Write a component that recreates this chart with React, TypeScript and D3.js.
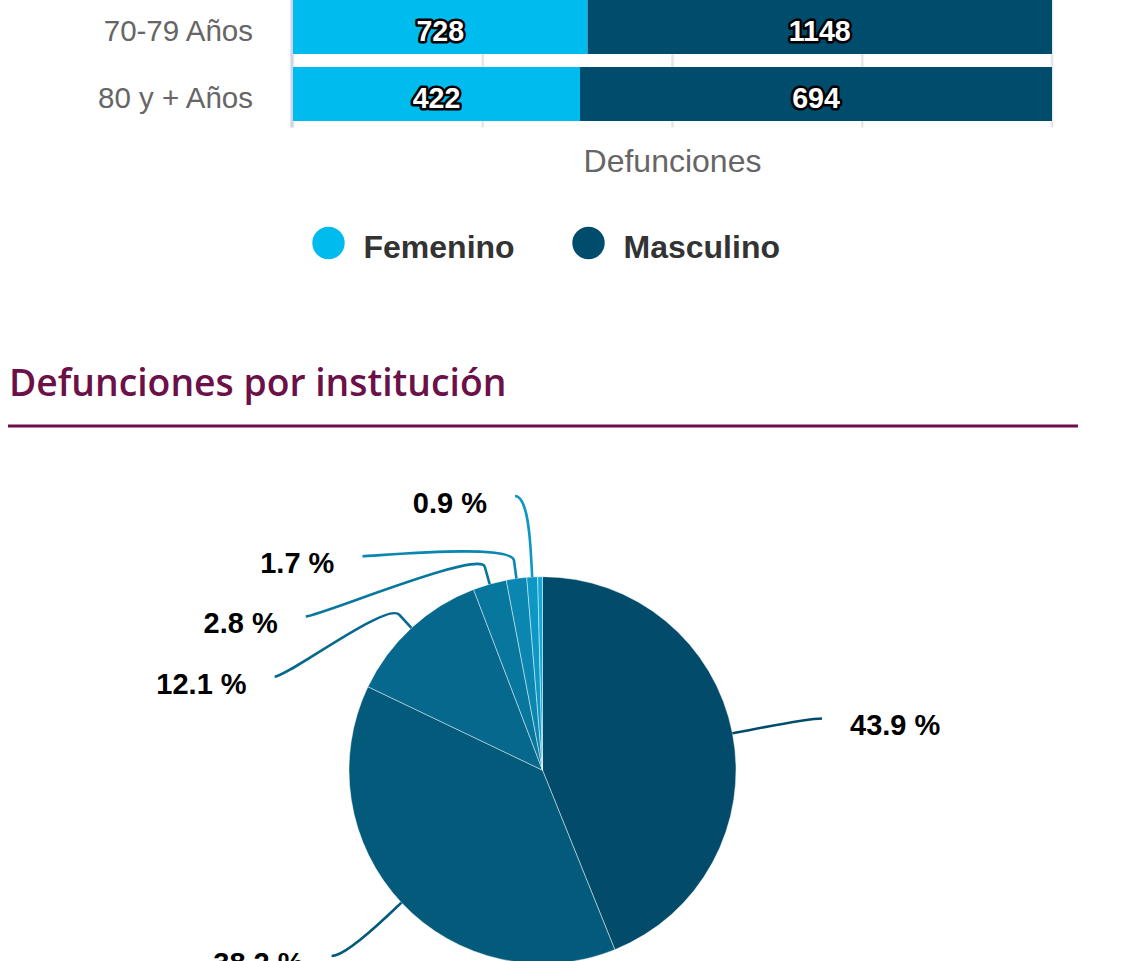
import React from 'react';
import * as d3 from 'd3';

// ---------- Data ----------
const ageGroups = ['70-79 Años', '80 y + Años'];
const femenino = [728, 422];
const masculino = [1148, 694];
const seriesNames = ['Femenino', 'Masculino'];
const seriesColors = ['#00bbed', '#004c6d'];
const xTicks = [0, 25, 50, 75, 100];
const xAxisTitle = 'Defunciones';

const sectionTitle = 'Defunciones por institución';
const institutionShares = [43.9, 38.2, 12.1, 2.8, 1.7, 0.9, 0.4];
const institutionLabelShown = [true, true, true, true, true, true, false];
const pieColors = ['#024b6b', '#035a7b', '#06688c', '#08779e', '#0a86b1', '#0c97c5', '#12a8d8'];

const FONT = '"Liberation Sans", Arial, Helvetica, sans-serif';

type PieLabel = {
  i: number;
  text: string;
  left: boolean;
  naturalY: number;
  y: number;
  x: number;
  bx: number;
  by: number;
  tx: number;
  ty: number;
  color: string;
};

export default function App() {
  const W = 1136;
  const H = 961;

  // ---------- Bar chart (percent stacked) ----------
  const plotLeft = 293;
  const plotRight = 1052;
  const plotTop = -6.5;
  const plotBottom = 127.5;
  const x = d3.scaleLinear().domain([0, 100]).range([plotLeft, plotRight]);
  const y = d3
    .scaleBand<string>()
    .domain(ageGroups)
    .range([plotTop, plotBottom])
    .paddingInner(0.194)
    .paddingOuter(0.097);

  const rows = ageGroups.map((g, i) => ({ group: g, f: femenino[i], m: masculino[i] }));
  const stacked = d3
    .stack<any>()
    .keys(['f', 'm'])
    .offset(d3.stackOffsetExpand)(rows);

  // ---------- Pie ----------
  const cx = 542.5;
  const cy = 770.2;
  const r = 193.5;
  const labelDistance = 78;
  const labelR = r + labelDistance;
  const pad = 13;
  const breakR = r + 18;
  const spacing = 60.2;
  const labelTop = 496;

  const pieGen = d3
    .pie<number>()
    .sort(null)
    .value((d) => d)
    .startAngle(0)
    .endAngle(2 * Math.PI);
  const arcs = pieGen(institutionShares);
  const arcGen = d3.arc<d3.PieArcDatum<number>>().innerRadius(0).outerRadius(r);

  const labels: PieLabel[] = [];
  arcs.forEach((a, i) => {
    if (!institutionLabelShown[i]) return;
    const mid = (a.startAngle + a.endAngle) / 2;
    const s = Math.sin(mid);
    const c = Math.cos(mid);
    labels.push({
      i,
      text: `${d3.format('.1f')(a.data)} %`,
      left: s < 0,
      naturalY: cy - labelR * c,
      y: 0,
      x: 0,
      bx: cx + breakR * s,
      by: cy - breakR * c,
      tx: cx + r * s,
      ty: cy - r * c,
      color: pieColors[i],
    });
  });

  // distribute labels on each side (cluster merging)
  [true, false].forEach((side) => {
    const items = labels.filter((l) => l.left === side).sort((a, b) => a.naturalY - b.naturalY);
    type Cl = { items: PieLabel[]; start: number };
    const clusters: Cl[] = [];
    const place = (cl: Cl) => {
      const m = d3.mean(cl.items, (it, k) => it.naturalY - k * spacing) as number;
      cl.start = Math.max(labelTop, m);
    };
    items.forEach((it) => {
      const cl: Cl = { items: [it], start: 0 };
      place(cl);
      clusters.push(cl);
      while (clusters.length > 1) {
        const last = clusters[clusters.length - 1];
        const prev = clusters[clusters.length - 2];
        if (prev.start + prev.items.length * spacing > last.start) {
          prev.items = prev.items.concat(last.items);
          clusters.pop();
          place(prev);
        } else break;
      }
    });
    clusters.forEach((cl) => cl.items.forEach((it, k) => (it.y = cl.start + k * spacing)));
  });

  labels.forEach((l) => {
    const yy = l.y <= labelTop + 2 ? l.naturalY : l.y;
    const ratio = Math.max(-1, Math.min(1, (yy - cy) / labelR));
    const ang = Math.asin(ratio);
    l.x = cx + (l.left ? -1 : 1) * (Math.cos(ang) * labelR + pad);
  });

  const connectorPath = (l: PieLabel) => {
    const c1x = l.x + (l.left ? 13 : -13);
    return `M${l.x},${l.y}C${c1x},${l.y} ${2 * l.bx - l.tx},${2 * l.by - l.ty} ${l.bx},${l.by}L${l.tx},${l.ty}`;
  };

  const legendX = [328.5, 588.5];
  const legendY = 243;

  return (
    <svg
      width={W}
      height={H}
      viewBox={`0 0 ${W} ${H}`}
      style={{ position: 'absolute', left: 0, top: 0, background: '#ffffff' }}
    >
      <rect x={0} y={0} width={W} height={H} fill="#ffffff" />

      {/* grid lines */}
      {xTicks.map((t) => (
        <line
          key={`g${t}`}
          x1={x(t)}
          x2={x(t)}
          y1={plotTop}
          y2={plotBottom}
          stroke="#e6e6e6"
          strokeWidth={2.6}
        />
      ))}

      {/* bars */}
      {stacked.map((layer, si) =>
        layer.map((seg, gi) => (
          <rect
            key={`b${si}-${gi}`}
            x={x(seg[0] * 100)}
            width={x(seg[1] * 100) - x(seg[0] * 100)}
            y={y(ageGroups[gi]) as number}
            height={y.bandwidth()}
            fill={seriesColors[si]}
          />
        ))
      )}

      {/* category axis line */}
      <line x1={plotLeft - 1.3} x2={plotLeft - 1.3} y1={plotTop} y2={plotBottom} stroke="#ccd6eb" strokeWidth={2.6} />

      {/* category labels */}
      {ageGroups.map((g) => (
        <text
          key={`c${g}`}
          x={253}
          y={(y(g) as number) + y.bandwidth() / 2 + 14}
          textAnchor="end"
          fontFamily={FONT}
          fontSize={29.5}
          fill="#666666"
        >
          {g}
        </text>
      ))}

      {/* data labels */}
      {stacked.map((layer, si) =>
        layer.map((seg, gi) => (
          <text
            key={`d${si}-${gi}`}
            x={(x(seg[0] * 100) + x(seg[1] * 100)) / 2}
            y={(y(ageGroups[gi]) as number) + y.bandwidth() / 2 + 14.3}
            textAnchor="middle"
            fontFamily={FONT}
            fontSize={28.6}
            fontWeight="bold"
            fill="#ffffff"
            stroke="#000000"
            strokeWidth={5}
            strokeLinejoin="round"
            paintOrder="stroke"
          >
            {si === 0 ? femenino[gi] : masculino[gi]}
          </text>
        ))
      )}

      {/* x axis title */}
      <text
        x={(plotLeft + plotRight) / 2}
        y={171.5}
        textAnchor="middle"
        fontFamily={FONT}
        fontSize={32}
        fill="#666666"
      >
        {xAxisTitle}
      </text>

      {/* legend */}
      {seriesNames.map((n, i) => (
        <g key={`l${n}`}>
          <circle cx={legendX[i]} cy={legendY} r={16.2} fill={seriesColors[i]} />
          <text
            x={legendX[i] + 35}
            y={legendY + 15}
            fontFamily={FONT}
            fontSize={32}
            fontWeight="bold"
            fill="#333333"
          >
            {n}
          </text>
        </g>
      ))}

      {/* section title */}
      <text x={9} y={396} fontFamily='"Open Sans", sans-serif' fontWeight={600} fontSize={37.3} fill="#6b1048">
        {sectionTitle}
      </text>
      <line x1={8} x2={1078} y1={426} y2={426} stroke="#6b1048" strokeWidth={3} />

      {/* pie */}
      <g transform={`translate(${cx},${cy})`}>
        {arcs.map((a, i) => (
          <path
            key={`p${i}`}
            d={arcGen(a) as string}
            fill={pieColors[i]}
            stroke="#ffffff"
            strokeOpacity={0.45}
            strokeWidth={1}
          />
        ))}
      </g>

      {/* pie connectors and labels */}
      {labels.map((l) => (
        <g key={`pl${l.i}`}>
          <path d={connectorPath(l)} fill="none" stroke={l.color} strokeWidth={2.6} />
          <text
            x={l.x + (l.left ? -28 : 28)}
            y={l.y + 17}
            textAnchor={l.left ? 'end' : 'start'}
            fontFamily={FONT}
            fontSize={29}
            fontWeight="bold"
            fill="#000000"
          >
            {l.text}
          </text>
        </g>
      ))}
    </svg>
  );
}
